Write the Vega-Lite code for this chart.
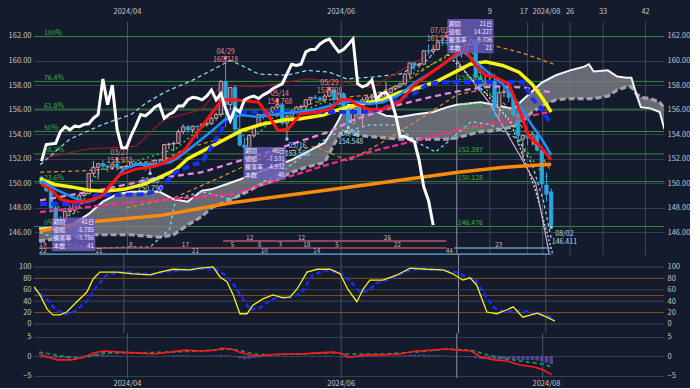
{
"$schema":"https://vega.github.io/schema/vega-lite/v6.json",
"background":"#141b2c",
"padding":{"left":8,"top":7,"right":0,"bottom":0},
"spacing":0,
"bounds":"flush",
"config":{"view":{"stroke":null},"font":"Noto Sans CJK JP","axis":{"labelColor":"#c4c4c4","labelFontSize":7.5,"labelFont":"Noto Sans CJK JP","domain":false,"ticks":false,"labelPadding":3,"gridColor":"#363e4f","title":null},"text":{"font":"Noto Sans CJK JP","fontSize":7.5}},
"datasets":{
"px":[
{"t":2,"o":150.5,"h":150.6,"l":149.8,"c":150.0,"hg":-0.4},
{"t":3,"o":150.0,"h":150.2,"l":149.3,"c":149.4,"hg":-0.45},
{"t":4,"o":149.4,"h":149.5,"l":147.6,"c":148.0,"hg":-0.5},
{"t":5,"o":148.0,"h":148.2,"l":146.48,"c":147.05,"hg":-0.55},
{"t":6,"o":147.05,"h":147.3,"l":146.48,"c":146.95,"hg":-0.5},
{"t":7,"o":146.95,"h":148.0,"l":146.8,"c":147.7,"hg":-0.4},
{"t":8,"o":147.7,"h":148.2,"l":147.3,"c":147.8,"hg":-0.3},
{"t":9,"o":147.8,"h":148.4,"l":147.5,"c":148.3,"hg":-0.1},
{"t":10,"o":148.3,"h":149.2,"l":148.0,"c":149.0,"hg":0.02},
{"t":11,"o":149.0,"h":149.3,"l":148.9,"c":149.15,"hg":0.15},
{"t":12,"o":149.15,"h":150.8,"l":149.1,"c":150.8,"hg":0.35},
{"t":13,"o":150.8,"h":151.8,"l":150.5,"c":151.3,"hg":0.45},
{"t":14,"o":151.3,"h":151.4,"l":150.3,"c":151.6,"hg":0.45},
{"t":15,"o":151.6,"h":151.9,"l":151.2,"c":151.4,"hg":0.4},
{"t":16,"o":151.4,"h":151.5,"l":150.9,"c":151.3,"hg":0.3},
{"t":17,"o":151.3,"h":151.6,"l":151.1,"c":151.55,"hg":0.2},
{"t":18,"o":151.55,"h":151.973,"l":151.0,"c":151.3,"hg":0.15},
{"t":19,"o":151.3,"h":151.4,"l":151.1,"c":151.35,"hg":0.1},
{"t":20,"o":151.35,"h":151.45,"l":151.2,"c":151.4,"hg":0.05},
{"t":21,"o":151.4,"h":151.75,"l":151.3,"c":151.65,"hg":0.02},
{"t":22,"o":151.65,"h":151.8,"l":151.5,"c":151.55,"hg":0.02},
{"t":23,"o":151.55,"h":151.8,"l":151.45,"c":151.65,"hg":-0.05},
{"t":24,"o":151.65,"h":151.7,"l":151.0,"c":151.3,"hg":-0.1},
{"t":25,"o":151.3,"h":151.75,"l":150.79,"c":151.6,"hg":-0.1},
{"t":26,"o":151.6,"h":151.95,"l":151.55,"c":151.85,"hg":-0.05},
{"t":27,"o":151.85,"h":151.95,"l":151.6,"c":151.8,"hg":0.02},
{"t":28,"o":151.8,"h":153.2,"l":151.6,"c":153.15,"hg":0.1},
{"t":29,"o":153.15,"h":153.3,"l":152.75,"c":153.2,"hg":0.15},
{"t":30,"o":153.2,"h":153.4,"l":152.6,"c":153.25,"hg":0.2},
{"t":31,"o":153.25,"h":154.4,"l":153.2,"c":154.2,"hg":0.25},
{"t":32,"o":154.2,"h":154.8,"l":154.0,"c":154.6,"hg":0.25},
{"t":33,"o":154.6,"h":154.75,"l":154.1,"c":154.35,"hg":0.2},
{"t":34,"o":154.35,"h":154.7,"l":154.1,"c":154.65,"hg":0.15},
{"t":35,"o":154.65,"h":154.7,"l":153.6,"c":154.6,"hg":0.1},
{"t":36,"o":154.6,"h":154.9,"l":154.5,"c":154.8,"hg":0.1},
{"t":37,"o":154.8,"h":154.9,"l":154.6,"c":154.85,"hg":0.1},
{"t":38,"o":154.85,"h":155.4,"l":154.75,"c":155.3,"hg":0.15},
{"t":39,"o":155.3,"h":155.75,"l":155.1,"c":155.6,"hg":0.2},
{"t":40,"o":155.6,"h":158.4,"l":155.4,"c":158.3,"hg":0.3},
{"t":41,"o":158.3,"h":160.218,"l":154.55,"c":156.4,"hg":0.2},
{"t":42,"o":156.4,"h":157.8,"l":155.9,"c":157.8,"hg":0.1},
{"t":43,"o":157.8,"h":158.0,"l":153.9,"c":154.4,"hg":-0.3},
{"t":44,"o":154.4,"h":156.0,"l":153.0,"c":153.1,"hg":-0.6},
{"t":45,"o":153.1,"h":153.7,"l":151.86,"c":152.9,"hg":-0.8},
{"t":46,"o":152.9,"h":154.0,"l":152.8,"c":153.9,"hg":-0.7},
{"t":47,"o":153.9,"h":154.7,"l":153.8,"c":154.7,"hg":-0.5},
{"t":48,"o":154.7,"h":155.6,"l":154.6,"c":155.6,"hg":-0.35},
{"t":49,"o":155.6,"h":155.95,"l":155.2,"c":155.5,"hg":-0.2},
{"t":50,"o":155.5,"h":155.8,"l":155.3,"c":155.8,"hg":-0.1},
{"t":51,"o":155.8,"h":156.2,"l":155.7,"c":156.2,"hg":0.02},
{"t":52,"o":156.2,"h":156.768,"l":156.1,"c":156.4,"hg":0.05},
{"t":53,"o":156.4,"h":156.5,"l":154.7,"c":154.9,"hg":-0.05},
{"t":54,"o":154.9,"h":155.6,"l":153.598,"c":155.4,"hg":-0.1},
{"t":55,"o":155.4,"h":155.9,"l":155.2,"c":155.7,"hg":-0.05},
{"t":56,"o":155.7,"h":156.3,"l":155.6,"c":156.2,"hg":0.02},
{"t":57,"o":156.2,"h":156.4,"l":155.9,"c":156.25,"hg":0.05},
{"t":58,"o":156.25,"h":156.8,"l":156.0,"c":156.8,"hg":0.05},
{"t":59,"o":156.8,"h":157.0,"l":156.5,"c":157.0,"hg":0.05},
{"t":60,"o":157.0,"h":157.2,"l":156.8,"c":156.95,"hg":0.05},
{"t":61,"o":156.95,"h":157.1,"l":156.6,"c":156.8,"hg":0.05},
{"t":62,"o":156.8,"h":157.3,"l":156.8,"c":157.1,"hg":0.1},
{"t":63,"o":157.1,"h":157.708,"l":157.0,"c":157.6,"hg":0.1},
{"t":64,"o":157.6,"h":157.7,"l":156.4,"c":156.8,"hg":0.02},
{"t":65,"o":156.8,"h":157.3,"l":156.5,"c":157.3,"hg":-0.1},
{"t":66,"o":157.3,"h":157.4,"l":156.0,"c":156.1,"hg":-0.3},
{"t":67,"o":156.1,"h":156.15,"l":154.548,"c":154.9,"hg":-0.5},
{"t":68,"o":154.9,"h":156.4,"l":154.9,"c":156.1,"hg":-0.5},
{"t":69,"o":156.1,"h":156.2,"l":155.4,"c":155.6,"hg":-0.4},
{"t":70,"o":155.6,"h":157.0,"l":154.6,"c":156.8,"hg":-0.3},
{"t":71,"o":156.8,"h":157.2,"l":156.7,"c":157.0,"hg":-0.2},
{"t":72,"o":157.0,"h":157.2,"l":156.8,"c":157.1,"hg":-0.15},
{"t":73,"o":157.1,"h":157.3,"l":155.7,"c":156.7,"hg":-0.1},
{"t":74,"o":156.7,"h":157.1,"l":156.6,"c":157.1,"hg":-0.05},
{"t":75,"o":157.1,"h":158.25,"l":156.9,"c":157.4,"hg":0.02},
{"t":76,"o":157.4,"h":157.8,"l":157.3,"c":157.7,"hg":0.05},
{"t":77,"o":157.7,"h":158.0,"l":157.6,"c":157.9,"hg":0.1},
{"t":78,"o":157.9,"h":158.2,"l":157.8,"c":158.1,"hg":0.15},
{"t":79,"o":158.1,"h":159.0,"l":158.0,"c":158.9,"hg":0.2},
{"t":80,"o":158.9,"h":159.8,"l":158.7,"c":159.8,"hg":0.3},
{"t":81,"o":159.8,"h":159.9,"l":159.2,"c":159.6,"hg":0.35},
{"t":82,"o":159.6,"h":159.8,"l":159.4,"c":159.7,"hg":0.35},
{"t":83,"o":159.7,"h":160.85,"l":159.7,"c":160.8,"hg":0.35},
{"t":84,"o":160.8,"h":161.3,"l":160.5,"c":160.75,"hg":0.3},
{"t":85,"o":160.75,"h":161.3,"l":160.5,"c":160.9,"hg":0.25},
{"t":86,"o":160.9,"h":161.7,"l":160.8,"c":161.5,"hg":0.2},
{"t":87,"o":161.5,"h":161.75,"l":161.2,"c":161.45,"hg":0.15},
{"t":88,"o":161.45,"h":161.95,"l":161.2,"c":161.4,"hg":0.1},
{"t":89,"o":161.4,"h":161.5,"l":161.0,"c":161.2,"hg":0.02},
{"t":90,"o":161.2,"h":161.3,"l":160.3,"c":160.75,"hg":-0.1},
{"t":91,"o":160.75,"h":161.0,"l":160.25,"c":160.8,"hg":-0.15},
{"t":92,"o":160.8,"h":161.3,"l":160.7,"c":161.3,"hg":-0.15},
{"t":93,"o":161.3,"h":161.8,"l":161.2,"c":161.7,"hg":-0.2},
{"t":94,"o":161.7,"h":161.75,"l":157.4,"c":158.6,"hg":-0.5},
{"t":95,"o":158.6,"h":159.45,"l":157.4,"c":157.9,"hg":-0.7},
{"t":96,"o":157.9,"h":158.8,"l":157.8,"c":158.1,"hg":-0.75},
{"t":97,"o":158.1,"h":158.9,"l":157.9,"c":158.3,"hg":-0.8},
{"t":98,"o":158.3,"h":158.9,"l":155.4,"c":156.2,"hg":-0.9},
{"t":99,"o":156.2,"h":157.9,"l":155.4,"c":157.4,"hg":-0.9},
{"t":100,"o":157.4,"h":157.9,"l":157.0,"c":157.5,"hg":-0.85},
{"t":101,"o":157.5,"h":157.8,"l":156.6,"c":157.0,"hg":-0.8},
{"t":102,"o":157.0,"h":157.2,"l":155.5,"c":155.6,"hg":-0.9},
{"t":103,"o":155.6,"h":155.9,"l":153.2,"c":153.9,"hg":-1.0},
{"t":104,"o":153.6,"h":154.0,"l":151.9,"c":153.9,"hg":-1.0},
{"t":105,"o":153.9,"h":154.3,"l":153.1,"c":153.7,"hg":-1.0},
{"t":106,"o":153.7,"h":154.2,"l":153.1,"c":154.0,"hg":-1.05},
{"t":107,"o":153.9,"h":154.3,"l":152.6,"c":152.7,"hg":-1.15},
{"t":108,"o":152.7,"h":153.0,"l":149.6,"c":149.95,"hg":-1.4},
{"t":109,"o":149.85,"h":150.9,"l":148.5,"c":149.1,"hg":-1.7},
{"t":110,"o":149.3,"h":149.6,"l":146.411,"c":146.576,"hg":-2.0}
],
"ln":[
{"s":"ch","t":2,"v":151.8},{"s":"ch","t":3,"v":153.15},{"s":"ch","t":4,"v":153.2},{"s":"ch","t":5,"v":153.25},{"s":"ch","t":6,"v":154.2},{"s":"ch","t":7,"v":154.6},{"s":"ch","t":8,"v":154.35},{"s":"ch","t":9,"v":154.65},{"s":"ch","t":10,"v":154.6},{"s":"ch","t":11,"v":154.8},{"s":"ch","t":12,"v":154.85},{"s":"ch","t":13,"v":155.3},{"s":"ch","t":14,"v":155.6},{"s":"ch","t":15,"v":158.5},{"s":"ch","t":16,"v":156.4},{"s":"ch","t":17,"v":158.0},{"s":"ch","t":18,"v":154.4},{"s":"ch","t":19,"v":152.9},{"s":"ch","t":20,"v":152.9},{"s":"ch","t":21,"v":153.9},{"s":"ch","t":22,"v":154.7},{"s":"ch","t":23,"v":155.6},{"s":"ch","t":24,"v":155.5},{"s":"ch","t":25,"v":155.8},{"s":"ch","t":26,"v":156.2},{"s":"ch","t":27,"v":156.4},{"s":"ch","t":28,"v":155.3},{"s":"ch","t":29,"v":155.6},{"s":"ch","t":30,"v":155.8},{"s":"ch","t":31,"v":156.3},{"s":"ch","t":32,"v":156.3},{"s":"ch","t":33,"v":156.8},{"s":"ch","t":34,"v":157.0},{"s":"ch","t":35,"v":156.95},{"s":"ch","t":36,"v":156.8},{"s":"ch","t":37,"v":157.1},{"s":"ch","t":38,"v":157.6},{"s":"ch","t":39,"v":156.8},{"s":"ch","t":40,"v":157.3},{"s":"ch","t":41,"v":156.1},{"s":"ch","t":42,"v":155.1},{"s":"ch","t":43,"v":156.1},{"s":"ch","t":44,"v":155.8},{"s":"ch","t":45,"v":156.8},{"s":"ch","t":46,"v":157.0},{"s":"ch","t":47,"v":157.1},{"s":"ch","t":48,"v":156.9},{"s":"ch","t":49,"v":157.2},{"s":"ch","t":50,"v":157.4},{"s":"ch","t":51,"v":157.7},{"s":"ch","t":52,"v":157.9},{"s":"ch","t":53,"v":158.1},{"s":"ch","t":54,"v":158.9},{"s":"ch","t":55,"v":159.7},{"s":"ch","t":56,"v":159.6},{"s":"ch","t":57,"v":159.7},{"s":"ch","t":58,"v":160.7},{"s":"ch","t":59,"v":160.9},{"s":"ch","t":60,"v":160.9},{"s":"ch","t":61,"v":161.35},{"s":"ch","t":62,"v":161.6},{"s":"ch","t":63,"v":161.75},{"s":"ch","t":64,"v":161.2},{"s":"ch","t":65,"v":160.7},{"s":"ch","t":66,"v":160.9},{"s":"ch","t":67,"v":161.3},{"s":"ch","t":68,"v":161.75},{"s":"ch","t":69,"v":158.1},{"s":"ch","t":70,"v":157.85},{"s":"ch","t":71,"v":158.0},{"s":"ch","t":72,"v":158.4},{"s":"ch","t":73,"v":156.8},{"s":"ch","t":74,"v":157.3},{"s":"ch","t":75,"v":157.4},{"s":"ch","t":76,"v":156.9},{"s":"ch","t":77,"v":155.6},{"s":"ch","t":78,"v":153.8},{"s":"ch","t":79,"v":153.8},{"s":"ch","t":80,"v":153.6},{"s":"ch","t":81,"v":153.4},{"s":"ch","t":82,"v":151.9},{"s":"ch","t":83,"v":149.7},{"s":"ch","t":84,"v":148.6},{"s":"ch","t":85,"v":146.6},
{"s":"r","t":2,"v":149.9},{"s":"r","t":4,"v":149.5},{"s":"r","t":6,"v":148.7},{"s":"r","t":8,"v":148.5},{"s":"r","t":11,"v":148.5},{"s":"r","t":14.6,"v":148.9},{"s":"r","t":16.6,"v":149.85},{"s":"r","t":18.6,"v":150.7},{"s":"r","t":22,"v":151.15},{"s":"r","t":25,"v":151.3},{"s":"r","t":27,"v":151.5},{"s":"r","t":30.4,"v":152.15},{"s":"r","t":32.5,"v":152.8},{"s":"r","t":34,"v":153.6},{"s":"r","t":36.7,"v":155.0},{"s":"r","t":40.2,"v":156.8},{"s":"r","t":43,"v":156.8},{"s":"r","t":48,"v":156.6},{"s":"r","t":50,"v":155.55},{"s":"r","t":52.1,"v":154.3},{"s":"r","t":54.2,"v":154.4},{"s":"r","t":56.9,"v":155.65},{"s":"r","t":60.5,"v":155.8},{"s":"r","t":63.2,"v":156.05},{"s":"r","t":65.3,"v":156.8},{"s":"r","t":67.4,"v":156.8},{"s":"r","t":68.8,"v":156.4},{"s":"r","t":71.5,"v":156.0},{"s":"r","t":74.4,"v":156.05},{"s":"r","t":77.8,"v":156.6},{"s":"r","t":81.3,"v":158.1},{"s":"r","t":84.7,"v":159.05},{"s":"r","t":87.5,"v":159.8},{"s":"r","t":89.3,"v":160.4},{"s":"r","t":91.6,"v":160.95},{"s":"r","t":94,"v":159.6},{"s":"r","t":96.1,"v":158.8},{"s":"r","t":98.2,"v":158.65},{"s":"r","t":101,"v":158.1},{"s":"r","t":103.2,"v":156.05},{"s":"r","t":105.3,"v":153.8},{"s":"r","t":107.4,"v":153.1},{"s":"r","t":108.7,"v":152.55},{"s":"r","t":110,"v":151.9},
{"s":"sb","t":2,"v":150.2},{"s":"sb","t":5,"v":149.5},{"s":"sb","t":8.3,"v":148.9},{"s":"sb","t":11,"v":148.5},{"s":"sb","t":13,"v":148.6},{"s":"sb","t":15.2,"v":149.1},{"s":"sb","t":17.3,"v":150.1},{"s":"sb","t":19.4,"v":151.15},{"s":"sb","t":22.1,"v":151.5},{"s":"sb","t":26.3,"v":151.5},{"s":"sb","t":29.2,"v":151.7},{"s":"sb","t":31,"v":152.1},{"s":"sb","t":34,"v":153.0},{"s":"sb","t":38.2,"v":154.3},{"s":"sb","t":40.9,"v":155.2},{"s":"sb","t":44.4,"v":155.55},{"s":"sb","t":48,"v":155.4},{"s":"sb","t":52.1,"v":155.65},{"s":"sb","t":56.3,"v":155.8},{"s":"sb","t":60.5,"v":156.05},{"s":"sb","t":64.6,"v":156.45},{"s":"sb","t":67.7,"v":156.7},{"s":"sb","t":71.5,"v":156.45},{"s":"sb","t":74.4,"v":156.6},{"s":"sb","t":77.8,"v":157.2},{"s":"sb","t":81.3,"v":158.25},{"s":"sb","t":84.7,"v":159.05},{"s":"sb","t":88.2,"v":160.0},{"s":"sb","t":91.4,"v":160.7},{"s":"sb","t":93.4,"v":160.1},{"s":"sb","t":96.1,"v":159.2},{"s":"sb","t":99.7,"v":158.1},{"s":"sb","t":103.2,"v":156.4},{"s":"sb","t":105.9,"v":154.75},{"s":"sb","t":108,"v":153.6},{"s":"sb","t":110,"v":152.3},
{"s":"y","t":1.7,"v":150.35},{"s":"y","t":4.8,"v":149.9},{"s":"y","t":8.3,"v":149.7},{"s":"y","t":11.7,"v":149.45},{"s":"y","t":15.2,"v":149.35},{"s":"y","t":19.4,"v":149.5},{"s":"y","t":23.6,"v":149.9},{"s":"y","t":26.3,"v":150.35},{"s":"y","t":30.4,"v":151.1},{"s":"y","t":33,"v":152.0},{"s":"y","t":38,"v":153.0},{"s":"y","t":41,"v":153.6},{"s":"y","t":44.4,"v":154.3},{"s":"y","t":48.6,"v":154.8},{"s":"y","t":53.4,"v":155.15},{"s":"y","t":56.9,"v":155.25},{"s":"y","t":61.7,"v":155.55},{"s":"y","t":64.6,"v":155.95},{"s":"y","t":69.4,"v":156.45},{"s":"y","t":74.2,"v":156.8},{"s":"y","t":77.8,"v":157.4},{"s":"y","t":81.3,"v":157.7},{"s":"y","t":85.5,"v":158.25},{"s":"y","t":90.3,"v":159.2},{"s":"y","t":92.8,"v":159.7},{"s":"y","t":96.1,"v":159.9},{"s":"y","t":99.7,"v":159.6},{"s":"y","t":103.2,"v":159.05},{"s":"y","t":105.9,"v":158.1},{"s":"y","t":108,"v":157.0},{"s":"y","t":110,"v":155.8},
{"s":"o","t":1.7,"v":146.1},{"s":"o","t":11,"v":146.8},{"s":"o","t":27.7,"v":147.4},{"s":"o","t":42.3,"v":148.4},{"s":"o","t":67.4,"v":149.7},{"s":"o","t":90.3,"v":150.9},{"s":"o","t":100,"v":151.3},{"s":"o","t":110,"v":151.55},
{"s":"k","t":1.7,"v":148.3},{"s":"k","t":9,"v":148.3},{"s":"k","t":12,"v":148.5},{"s":"k","t":13.5,"v":149.0},{"s":"k","t":24,"v":149.1},{"s":"k","t":27,"v":149.5},{"s":"k","t":30.4,"v":150.9},{"s":"k","t":34,"v":151.5},{"s":"k","t":36,"v":151.7},{"s":"k","t":38.2,"v":153.1},{"s":"k","t":40.2,"v":154.4},{"s":"k","t":42,"v":155.8},{"s":"k","t":66,"v":155.8},{"s":"k","t":70,"v":155.8},{"s":"k","t":74.4,"v":156.05},{"s":"k","t":77.8,"v":156.9},{"s":"k","t":81.3,"v":157.4},{"s":"k","t":84,"v":158.1},{"s":"k","t":86.8,"v":158.25},{"s":"k","t":104,"v":158.25},{"s":"k","t":106,"v":156.9},{"s":"k","t":108,"v":156.0},{"s":"k","t":110,"v":154.8},
{"s":"vi","t":1.7,"v":148.6},{"s":"vi","t":15,"v":149.5},{"s":"vi","t":25,"v":150.3},{"s":"vi","t":36,"v":150.9},{"s":"vi","t":48,"v":152.3},{"s":"vi","t":63,"v":154.2},{"s":"vi","t":67.7,"v":155.1},{"s":"vi","t":77.8,"v":156.4},{"s":"vi","t":84.7,"v":157.05},{"s":"vi","t":89.7,"v":157.45},{"s":"vi","t":95,"v":157.8},{"s":"vi","t":99,"v":157.9},{"s":"vi","t":104.3,"v":157.8},{"s":"vi","t":110,"v":157.4},
{"s":"hp","t":1.7,"v":147.65},{"s":"hp","t":20,"v":148.4},{"s":"hp","t":42.3,"v":149.1},{"s":"hp","t":60,"v":151.2},{"s":"hp","t":72,"v":152.6},{"s":"hp","t":90.9,"v":154.4},{"s":"hp","t":99.7,"v":155.0},{"s":"hp","t":109.5,"v":155.8},
{"s":"cu","t":1.7,"v":151.5},{"s":"cu","t":8,"v":153.6},{"s":"cu","t":15,"v":154.8},{"s":"cu","t":21,"v":155.6},{"s":"cu","t":24,"v":156.5},{"s":"cu","t":28,"v":157.4},{"s":"cu","t":34,"v":158.4},{"s":"cu","t":40,"v":159.6},{"s":"cu","t":42,"v":160.0},{"s":"cu","t":44.4,"v":159.6},{"s":"cu","t":48,"v":158.9},{"s":"cu","t":54,"v":158.8},{"s":"cu","t":58.4,"v":159.2},{"s":"cu","t":63,"v":159.05},{"s":"cu","t":66.7,"v":158.5},{"s":"cu","t":72,"v":158.65},{"s":"cu","t":78,"v":158.9},{"s":"cu","t":84,"v":160.1},{"s":"cu","t":87,"v":161.8},{"s":"cu","t":89.5,"v":163.3},{"s":"cu","t":92,"v":164.5},
{"s":"cl","t":1.7,"v":146.0},{"s":"cl","t":8,"v":145.0},{"s":"cl","t":14,"v":144.7},{"s":"cl","t":21,"v":144.8},{"s":"cl","t":25,"v":144.8},{"s":"cl","t":29.2,"v":146.3},{"s":"cl","t":30.4,"v":148.7},{"s":"cl","t":36,"v":149.3},{"s":"cl","t":42.3,"v":148.7},{"s":"cl","t":52.8,"v":150.9},{"s":"cl","t":63.2,"v":153.9},{"s":"cl","t":71.5,"v":154.75},{"s":"cl","t":77.2,"v":154.75},{"s":"cl","t":81.3,"v":153.4},{"s":"cl","t":85.5,"v":152.55},{"s":"cl","t":88.2,"v":153.4},{"s":"cl","t":93,"v":155.0},{"s":"cl","t":97,"v":154.8},{"s":"cl","t":100,"v":154.2},{"s":"cl","t":103,"v":153.6},{"s":"cl","t":106,"v":151.5},{"s":"cl","t":108.4,"v":148.5},{"s":"cl","t":110,"v":145.5},
{"s":"od","t":1.7,"v":150.9},{"s":"od","t":10,"v":151.0},{"s":"od","t":18,"v":151.2},{"s":"od","t":23.6,"v":151.7},{"s":"od","t":28.4,"v":152.0},{"s":"od","t":32.5,"v":152.8},{"s":"od","t":36,"v":153.2},{"s":"od","t":44,"v":154.0},{"s":"od","t":52,"v":155.5},{"s":"od","t":60,"v":156.6},{"s":"od","t":66,"v":157.0},{"s":"od","t":72,"v":157.2},{"s":"od","t":78,"v":158.0},{"s":"od","t":84,"v":159.5},{"s":"od","t":90,"v":160.95},{"s":"od","t":93.4,"v":161.5},{"s":"od","t":98,"v":161.2},{"s":"od","t":104,"v":160.6},{"s":"od","t":110.5,"v":159.7},
{"s":"odl","t":20,"v":148.0},{"s":"odl","t":30,"v":148.8},{"s":"odl","t":40,"v":150.5},{"s":"odl","t":50,"v":152.3},{"s":"odl","t":60,"v":153.0},{"s":"odl","t":67,"v":151.8},{"s":"odl","t":75,"v":153.5},{"s":"odl","t":82,"v":155.2},{"s":"odl","t":90,"v":157.2},{"s":"odl","t":95,"v":157.6},{"s":"odl","t":100,"v":156.5},{"s":"odl","t":105,"v":154.0},{"s":"odl","t":110,"v":151.0},
{"s":"g","t":1.7,"v":150.1},{"s":"g","t":4,"v":149.0},{"s":"g","t":7,"v":147.3},{"s":"g","t":10,"v":147.7},{"s":"g","t":12.5,"v":150.1},{"s":"g","t":16,"v":151.7},{"s":"g","t":22,"v":151.8},{"s":"g","t":30.4,"v":152.8},{"s":"g","t":35.5,"v":154.4},{"s":"g","t":40.2,"v":155.8},{"s":"g","t":42.3,"v":155.0},{"s":"g","t":45.9,"v":153.4},{"s":"g","t":50,"v":154.8},{"s":"g","t":55,"v":155.6},{"s":"g","t":62,"v":156.6},{"s":"g","t":67,"v":156.0},{"s":"g","t":71.5,"v":156.8},{"s":"g","t":77.5,"v":157.7},{"s":"g","t":81,"v":159.0},{"s":"g","t":87,"v":160.1},{"s":"g","t":92.4,"v":161.5},{"s":"g","t":96.1,"v":157.7},{"s":"g","t":99.7,"v":156.05},{"s":"g","t":101.8,"v":154.75},{"s":"g","t":104.5,"v":152.8},{"s":"g","t":107.4,"v":151.15},{"s":"g","t":109.5,"v":150.35},
{"s":"dr","t":1.7,"v":152.0},{"s":"dr","t":12,"v":152.8},{"s":"dr","t":22,"v":153.0},{"s":"dr","t":28,"v":155.2},{"s":"dr","t":36,"v":156.0},{"s":"dr","t":40,"v":158.0},{"s":"dr","t":48,"v":157.85},{"s":"dr","t":58,"v":158.5},{"s":"dr","t":66,"v":158.25},{"s":"dr","t":72,"v":157.8},{"s":"dr","t":84,"v":160.5},{"s":"dr","t":88,"v":162.3},{"s":"dr","t":92,"v":163.5},
{"s":"wd","t":88,"v":160.5},{"s":"wd","t":95,"v":157.8},{"s":"wd","t":101.4,"v":155.0},{"s":"wd","t":106.6,"v":149.5},{"s":"wd","t":110.5,"v":144.0},
{"s":"lv","t":90,"v":160.0},{"s":"lv","t":97,"v":156.5},{"s":"lv","t":103,"v":152.5},{"s":"lv","t":106.7,"v":150.0},{"s":"lv","t":109.6,"v":144.2}
],
"cloud":[
{"t":1.46,"a":146.3,"b":145.3},{"t":8,"a":146.5,"b":145.6},{"t":12,"a":147.5,"b":145.8},{"t":15,"a":148.5,"b":145.8},{"t":18,"a":149.1,"b":145.8},{"t":21,"a":149.3,"b":145.8},{"t":24,"a":149.3,"b":145.7},{"t":27,"a":149.3,"b":145.6},{"t":30,"a":148.7,"b":145.8},{"t":33,"a":148.5,"b":146.6},{"t":36,"a":149.4,"b":147.3},{"t":38,"a":149.5,"b":148.0},{"t":41,"a":149.9,"b":148.5},{"t":44,"a":150.3,"b":149.0},{"t":48,"a":150.9,"b":149.8},{"t":52,"a":151.5,"b":150.3},{"t":55,"a":151.9,"b":150.9},{"t":58,"a":152.5,"b":151.3},{"t":62,"a":153.3,"b":151.7},{"t":64,"a":154.5,"b":153.2},{"t":65,"a":155.2,"b":153.8},{"t":66,"a":156.0,"b":154.2},{"t":67,"a":156.4,"b":154.2},{"t":69,"a":156.3,"b":153.9},{"t":72,"a":156.0,"b":153.8},{"t":75,"a":155.5,"b":153.7},{"t":78,"a":155.4,"b":153.6},{"t":81,"a":155.6,"b":153.6},{"t":85,"a":155.8,"b":153.6},{"t":88,"a":156.2,"b":153.6},{"t":90,"a":156.4,"b":153.7},{"t":95,"a":156.6,"b":154.2},{"t":98,"a":156.4,"b":154.3},{"t":102,"a":156.05,"b":154.6},{"t":104,"a":156.8,"b":155.1},{"t":106,"a":157.5,"b":155.8},{"t":108,"a":158.2,"b":156.3},{"t":111,"a":158.8,"b":156.8},{"t":114,"a":159.2,"b":156.9},{"t":117,"a":159.5,"b":156.9},{"t":118,"a":159.7,"b":156.9},{"t":119,"a":159.1,"b":156.9},{"t":122,"a":159.2,"b":157.1},{"t":124,"a":158.7,"b":157.6},{"t":126,"a":158.6,"b":157.85},{"t":127,"a":158.6,"b":157.85},{"t":128,"a":157.3,"b":157.3},{"t":129,"a":156.2,"b":157.0},{"t":131,"a":156.1,"b":156.9},{"t":133,"a":155.8,"b":156.6},{"t":134,"a":154.4,"b":156.1}
],
"fib":[
{"p":161.95,"pct":"100%","lv":"161.950"},{"p":158.298,"pct":"76.4%","lv":"158.298"},{"p":156.039,"pct":"61.8%","lv":"156.039"},{"p":154.213,"pct":"50%","lv":"154.213"},{"p":152.387,"pct":"38.2%","lv":"152.387"},{"p":150.128,"pct":"23.6%","lv":"150.128"},{"p":146.476,"pct":"0%","lv":"146.476"}
],
"vg":[
{"t":20.2,"k":"m"},{"t":65.5,"k":"m"},{"t":108.2,"k":"m"},{"t":90,"k":"c"},{"t":97,"k":"y"},{"t":105,"k":"y"},{"t":114,"k":"y"},{"t":121,"k":"y"},{"t":130,"k":"y"}
],
"toplab":[
{"t":20.2,"lab":"2024/04","k":"m"},{"t":65.5,"lab":"2024/06","k":"m"},{"t":109.0,"lab":"2024/08","k":"m"},{"t":97,"lab":"9","k":"y"},{"t":104.2,"lab":"17","k":"y"},{"t":114,"lab":"26","k":"y"},{"t":121,"lab":"33","k":"y"},{"t":130,"lab":"42","k":"y"}
],
"hl":[
{"t":41,"tl":41,"p":160.218,"k":"h","lab":["04/29","160.218"]},
{"t":52,"tl":52.5,"p":156.768,"k":"h","lab":["05/14","156.768"]},
{"t":63,"tl":63,"p":157.708,"k":"h","lab":["05/29","157.708"]},
{"t":18,"tl":18.5,"p":151.973,"k":"h","lab":["03/27","151.973"]},
{"t":88,"tl":86.3,"p":161.95,"k":"h","lab":["07/03","161.950"]},
{"t":25,"tl":25,"p":150.79,"k":"l","lab":["04/05","150.790"]},
{"t":54,"tl":56.2,"p":153.598,"k":"l","lab":["05/16","153.598"]},
{"t":67,"tl":67.5,"p":154.548,"k":"l","lab":["06/04","154.548"]},
{"t":110,"tl":112.8,"p":146.411,"k":"l","lab":["08/02","146.411"]}
],
"box":[
{"t1":4.2,"t2":13.4,"p1":147.2,"p2":144.45},
{"t1":44.8,"t2":53.8,"p1":152.95,"p2":150.3},
{"t1":88.0,"t2":97.8,"p1":163.39,"p2":160.6}
],
"boxtxt":[
{"tk":4.5,"tv":13.1,"p":146.8,"k":"期間","v":"41日"},{"tk":4.5,"tv":13.1,"p":146.16,"k":"値幅","v":"-5.785"},{"tk":4.5,"tv":13.1,"p":145.52,"k":"騰落率","v":"-3.786"},{"tk":4.5,"tv":13.1,"p":144.88,"k":"本数","v":"41"},
{"tk":45.1,"tv":53.5,"p":152.62,"k":"期間","v":"46日"},{"tk":45.1,"tv":53.5,"p":151.98,"k":"値幅","v":"-7.531"},{"tk":45.1,"tv":53.5,"p":151.32,"k":"騰落率","v":"-4.932"},{"tk":45.1,"tv":53.5,"p":150.66,"k":"本数","v":"46"},
{"tk":88.3,"tv":97.5,"p":162.95,"k":"期間","v":"21日"},{"tk":88.3,"tv":97.5,"p":162.3,"k":"値幅","v":"14.227"},{"tk":88.3,"tv":97.5,"p":161.65,"k":"騰落率","v":"9.706"},{"tk":88.3,"tv":97.5,"p":161.0,"k":"本数","v":"21"}
],
"cy":[
{"r":"A","t1":40.5,"t2":87.8,"p":145.29},{"r":"B","t1":1.5,"t2":87.8,"p":144.72},{"r":"B2","t1":89.5,"t2":110,"p":144.72},{"r":"C","t1":1.5,"t2":110,"p":144.22}
],
"cyl":[
{"t":46.1,"p":145.29,"lab":"12"},{"t":57.1,"p":145.29,"lab":"12"},{"t":75.3,"p":145.29,"lab":"26"},
{"t":2.3,"p":144.72,"lab":"19"},{"t":20.9,"p":144.72,"lab":"8"},{"t":32.5,"p":144.72,"lab":"17"},{"t":42.5,"p":144.72,"lab":"5"},{"t":48.2,"p":144.72,"lab":"8"},{"t":52.6,"p":144.72,"lab":"3"},{"t":58.2,"p":144.72,"lab":"18"},{"t":64.6,"p":144.72,"lab":"5"},{"t":77.4,"p":144.72,"lab":"22"},{"t":98.9,"p":144.72,"lab":"23"},
{"t":2.3,"p":144.22,"lab":"22"},{"t":14.2,"p":144.22,"lab":"21"},{"t":34.6,"p":144.22,"lab":"21"},{"t":49.2,"p":144.22,"lab":"10"},{"t":60.3,"p":144.22,"lab":"14"},{"t":88.4,"p":144.22,"lab":"44"}
],
"st":[
{"s":"K","t":1.5,"v":65},{"s":"K","t":2.7,"v":51},{"s":"K","t":4.2,"v":26},{"s":"K","t":5.4,"v":16},{"s":"K","t":6.9,"v":16},{"s":"K","t":8.3,"v":21},{"s":"K","t":10.4,"v":39},{"s":"K","t":12.5,"v":56},{"s":"K","t":13.8,"v":79},{"s":"K","t":15.2,"v":91},{"s":"K","t":18.8,"v":91},{"s":"K","t":22.1,"v":88},{"s":"K","t":25.7,"v":86},{"s":"K","t":27.7,"v":91},{"s":"K","t":30.4,"v":96},{"s":"K","t":34.0,"v":95},{"s":"K","t":36.1,"v":98},{"s":"K","t":38.8,"v":100},{"s":"K","t":40.3,"v":82},{"s":"K","t":41.7,"v":74},{"s":"K","t":43.0,"v":51},{"s":"K","t":44.4,"v":18},{"s":"K","t":45.9,"v":18},{"s":"K","t":47.1,"v":33},{"s":"K","t":49.2,"v":44},{"s":"K","t":51.3,"v":51},{"s":"K","t":53.4,"v":46},{"s":"K","t":54.8,"v":47},{"s":"K","t":56.3,"v":61},{"s":"K","t":58.4,"v":91},{"s":"K","t":60.5,"v":96},{"s":"K","t":63.2,"v":96},{"s":"K","t":65.3,"v":88},{"s":"K","t":66.9,"v":61},{"s":"K","t":68.8,"v":39},{"s":"K","t":70.1,"v":61},{"s":"K","t":71.5,"v":77},{"s":"K","t":74.2,"v":77},{"s":"K","t":77.2,"v":86},{"s":"K","t":79.9,"v":98},{"s":"K","t":83.4,"v":96},{"s":"K","t":86.8,"v":95},{"s":"K","t":88.8,"v":88},{"s":"K","t":90.9,"v":77},{"s":"K","t":92.4,"v":81},{"s":"K","t":93.8,"v":68},{"s":"K","t":95.9,"v":21},{"s":"K","t":98.0,"v":18},{"s":"K","t":100.1,"v":25},{"s":"K","t":101.4,"v":30},{"s":"K","t":103.4,"v":12},{"s":"K","t":106.4,"v":19},{"s":"K","t":108.4,"v":12},{"s":"K","t":110.1,"v":5},
{"s":"D","t":1.5,"v":62},{"s":"D","t":4,"v":45},{"s":"D","t":6,"v":25},{"s":"D","t":8,"v":17},{"s":"D","t":10,"v":22},{"s":"D","t":12.5,"v":40},{"s":"D","t":14.5,"v":65},{"s":"D","t":16.5,"v":85},{"s":"D","t":19,"v":91},{"s":"D","t":22,"v":90},{"s":"D","t":26,"v":87},{"s":"D","t":29,"v":92},{"s":"D","t":33,"v":95},{"s":"D","t":37,"v":97},{"s":"D","t":39.5,"v":96},{"s":"D","t":41.5,"v":85},{"s":"D","t":43,"v":70},{"s":"D","t":45,"v":45},{"s":"D","t":46.5,"v":25},{"s":"D","t":48.5,"v":28},{"s":"D","t":51,"v":43},{"s":"D","t":53.5,"v":48},{"s":"D","t":55.5,"v":46},{"s":"D","t":57.5,"v":58},{"s":"D","t":59.5,"v":85},{"s":"D","t":62,"v":94},{"s":"D","t":65,"v":92},{"s":"D","t":67.5,"v":75},{"s":"D","t":69.5,"v":55},{"s":"D","t":71,"v":58},{"s":"D","t":73,"v":72},{"s":"D","t":76,"v":80},{"s":"D","t":79,"v":92},{"s":"D","t":82,"v":97},{"s":"D","t":86,"v":95},{"s":"D","t":89.5,"v":91},{"s":"D","t":91.5,"v":83},{"s":"D","t":93.5,"v":78},{"s":"D","t":95.5,"v":50},{"s":"D","t":97.5,"v":28},{"s":"D","t":99.5,"v":21},{"s":"D","t":102,"v":24},{"s":"D","t":104,"v":22},{"s":"D","t":106.5,"v":18},{"s":"D","t":108.5,"v":15},{"s":"D","t":110.1,"v":10}
],
"sh":[{"v":100,"k":"g"},{"v":60,"k":"g"},{"v":40,"k":"g"},{"v":0,"k":"g"},{"v":80,"k":"o"},{"v":50,"k":"o"},{"v":20,"k":"o"}],
"md":[
{"s":"M","t":1.5,"v":0.5},{"s":"M","t":3.4,"v":-0.3},{"s":"M","t":5.4,"v":-1.0},{"s":"M","t":8.3,"v":-1.0},{"s":"M","t":11,"v":-0.3},{"s":"M","t":13.1,"v":0.8},{"s":"M","t":15.2,"v":1.3},{"s":"M","t":18.8,"v":1.0},{"s":"M","t":22.1,"v":0.8},{"s":"M","t":25.7,"v":0.5},{"s":"M","t":29.2,"v":1.0},{"s":"M","t":32.5,"v":1.5},{"s":"M","t":36.1,"v":1.3},{"s":"M","t":38.8,"v":1.5},{"s":"M","t":40.2,"v":2.0},{"s":"M","t":42.3,"v":1.8},{"s":"M","t":43.8,"v":1.0},{"s":"M","t":45.9,"v":0.3},{"s":"M","t":48,"v":0.0},{"s":"M","t":50,"v":0.3},{"s":"M","t":53.4,"v":0.5},{"s":"M","t":56.9,"v":0.5},{"s":"M","t":60.5,"v":0.8},{"s":"M","t":63.8,"v":1.0},{"s":"M","t":65.9,"v":0.5},{"s":"M","t":67,"v":-0.3},{"s":"M","t":70.9,"v":0.3},{"s":"M","t":74.2,"v":0.3},{"s":"M","t":77.8,"v":0.5},{"s":"M","t":81.3,"v":1.3},{"s":"M","t":84.7,"v":1.5},{"s":"M","t":87.6,"v":1.8},{"s":"M","t":90.3,"v":1.5},{"s":"M","t":93,"v":1.3},{"s":"M","t":95.1,"v":-0.3},{"s":"M","t":98,"v":-1.0},{"s":"M","t":100.7,"v":-1.3},{"s":"M","t":103.4,"v":-2.3},{"s":"M","t":106.4,"v":-2.8},{"s":"M","t":108.4,"v":-3.6},{"s":"M","t":110.1,"v":-4.8},
{"s":"S","t":1.5,"v":1.0},{"s":"S","t":4.8,"v":0.3},{"s":"S","t":8.3,"v":-0.5},{"s":"S","t":11.7,"v":-0.3},{"s":"S","t":15.2,"v":0.8},{"s":"S","t":22.1,"v":0.8},{"s":"S","t":29.2,"v":1.0},{"s":"S","t":36.1,"v":1.3},{"s":"S","t":40.9,"v":1.8},{"s":"S","t":43.8,"v":1.5},{"s":"S","t":47.1,"v":0.5},{"s":"S","t":50,"v":0.3},{"s":"S","t":56.9,"v":0.5},{"s":"S","t":63.8,"v":0.8},{"s":"S","t":66.9,"v":0.5},{"s":"S","t":74.2,"v":0.5},{"s":"S","t":81.3,"v":1.0},{"s":"S","t":88.2,"v":1.8},{"s":"S","t":93,"v":1.5},{"s":"S","t":96.5,"v":0.3},{"s":"S","t":100.7,"v":-0.8},{"s":"S","t":104.9,"v":-1.5},{"s":"S","t":108.4,"v":-2.1},{"s":"S","t":110.1,"v":-2.8}
]
},
"vconcat":[
{
"width":630,"height":233,
"resolve":{"axis":{"y":"independent"},"scale":{"color":"independent","strokeDash":"independent","strokeWidth":"independent"}},
"layer":[
{"data":{"name":"vg"},"mark":{"type":"rule","strokeWidth":1},"encoding":{"x":{"field":"t","type":"quantitative","scale":{"domain":[1.46,132.85],"nice":false,"zero":false},"axis":null},"color":{"field":"k","type":"nominal","scale":{"domain":["m","c","y"],"range":["#4a5163","#8e94a0","#3f4658"]},"legend":null}}},
{"data":{"name":"fib"},"mark":{"type":"rule","color":"#2f8f35","strokeWidth":1},"encoding":{"y":{"field":"p","type":"quantitative","scale":{"domain":[144.15,163.14],"nice":false,"zero":false},"axis":{"orient":"left","values":[146,148,150,152,154,156,158,160,162],"format":".2f","grid":true}}}},
{"data":{"name":"cloud"},"mark":{"type":"area","color":"#7c7e88","opacity":0.8,"clip":true},"encoding":{"x":{"field":"t","type":"quantitative","axis":null},"y":{"field":"a","type":"quantitative","axis":null},"y2":{"field":"b"}}},
{"data":{"name":"cloud"},"mark":{"type":"line","color":"#a2a2aa","strokeWidth":3.2,"strokeDash":[6,3],"clip":true},"encoding":{"x":{"field":"t","type":"quantitative","axis":null},"y":{"field":"b","type":"quantitative","axis":null}}},
{"data":{"name":"cloud"},"mark":{"type":"line","color":"#f4f4f4","strokeWidth":2,"clip":true},"encoding":{"x":{"field":"t","type":"quantitative","axis":null},"y":{"field":"a","type":"quantitative","axis":null}}},
{"data":{"name":"ln"},"transform":[{"filter":{"field":"s","oneOf":["cu","cl","od","odl","g","dr","wd","lv"]}}],"mark":{"type":"line","clip":true},"encoding":{"x":{"field":"t","type":"quantitative","axis":null},"y":{"field":"v","type":"quantitative","axis":null},"color":{"field":"s","type":"nominal","scale":{"domain":["cu","cl","od","odl","g","dr","wd","lv"],"range":["#8ad6e6","#8ad6e6","#e08a20","#d88a28","#3ddc3d","#8e1c22","#eeeeee","#c8a8d8"]},"legend":null},"strokeDash":{"field":"s","type":"nominal","scale":{"domain":["cu","cl","od","odl","g","dr","wd","lv"],"range":[[4,3],[3,3],[4,3],[4,3],[2,3],[1,0],[2,2],[1,0]]},"legend":null},"strokeWidth":{"field":"s","type":"nominal","scale":{"domain":["cu","cl","od","odl","g","dr","wd","lv"],"range":[1.3,1.2,1.3,1.1,1.7,1,1,0.8]},"legend":null}}},
{"mark":{"type":"rule","color":"#d0d0d0","strokeWidth":1},"encoding":{"y":{"datum":146.576,"type":"quantitative","axis":null}}},
{"data":{"name":"cy"},"mark":{"type":"rule","strokeWidth":1.6,"clip":true},"encoding":{"x":{"field":"t1","type":"quantitative","axis":null},"x2":{"field":"t2"},"y":{"field":"p","type":"quantitative","axis":null},"color":{"field":"r","type":"nominal","scale":{"domain":["A","B","B2","C"],"range":["#b4596b","#a8505f","#6a97b8","#4f85a8"]},"legend":null}}},
{"data":{"name":"cyl"},"mark":{"type":"text","color":"#cdb4bc","fontSize":6.5,"baseline":"bottom","dy":0},"encoding":{"x":{"field":"t","type":"quantitative","axis":null},"y":{"field":"p","type":"quantitative","axis":null},"text":{"field":"lab"}}},
{"data":{"name":"px"},"mark":{"type":"rule","strokeWidth":1},"encoding":{"x":{"field":"t","type":"quantitative","axis":null},"y":{"field":"l","type":"quantitative","axis":null},"y2":{"field":"h"},"color":{"condition":{"test":"datum.c >= datum.o","value":"#d8a2ae"},"value":"#2aa5de"}}},
{"data":{"name":"px"},"mark":{"type":"bar","size":3.4,"strokeWidth":0.8},"encoding":{"x":{"field":"t","type":"quantitative","axis":null},"y":{"field":"o","type":"quantitative","axis":{"orient":"right","values":[146,148,150,152,154,156,158,160,162],"format":".2f","grid":false}},"y2":{"field":"c"},"fill":{"condition":{"test":"datum.c >= datum.o","value":"#4a3444"},"value":"#2aa5de"},"stroke":{"condition":{"test":"datum.c >= datum.o","value":"#eab4c0"},"value":"#2aa5de"}}},
{"data":{"name":"ln"},"transform":[{"filter":"datum.s==='hp'"}],"mark":{"type":"line","color":"#ff2a8c","strokeWidth":2.3,"strokeDash":[6,3],"clip":true},"encoding":{"x":{"field":"t","type":"quantitative","axis":null},"y":{"field":"v","type":"quantitative","axis":null}}},
{"data":{"name":"ln"},"transform":[{"filter":"datum.s==='vi'"}],"mark":{"type":"line","color":"#e48ae6","strokeWidth":2.3,"strokeDash":[6,4],"clip":true},"encoding":{"x":{"field":"t","type":"quantitative","axis":null},"y":{"field":"v","type":"quantitative","axis":null}}},
{"data":{"name":"ln"},"transform":[{"filter":"datum.s==='o'"}],"mark":{"type":"line","color":"#ff8a0a","strokeWidth":3.5,"clip":true},"encoding":{"x":{"field":"t","type":"quantitative","axis":null},"y":{"field":"v","type":"quantitative","axis":null}}},
{"data":{"name":"ln"},"transform":[{"filter":"datum.s==='y'"}],"mark":{"type":"line","color":"#f8f410","strokeWidth":3.5,"clip":true},"encoding":{"x":{"field":"t","type":"quantitative","axis":null},"y":{"field":"v","type":"quantitative","axis":null}}},
{"data":{"name":"ln"},"transform":[{"filter":"datum.s==='k'"}],"mark":{"type":"line","color":"#1530ff","strokeWidth":4,"strokeDash":[7,4],"clip":true},"encoding":{"x":{"field":"t","type":"quantitative","axis":null},"y":{"field":"v","type":"quantitative","axis":null}}},
{"data":{"name":"ln"},"transform":[{"filter":"datum.s==='sb'"}],"mark":{"type":"line","color":"#1e8fff","strokeWidth":2.5,"clip":true},"encoding":{"x":{"field":"t","type":"quantitative","axis":null},"y":{"field":"v","type":"quantitative","axis":null}}},
{"data":{"name":"ln"},"transform":[{"filter":"datum.s==='r'"}],"mark":{"type":"line","color":"#ff1414","strokeWidth":3,"clip":true},"encoding":{"x":{"field":"t","type":"quantitative","axis":null},"y":{"field":"v","type":"quantitative","axis":null}}},
{"data":{"name":"ln"},"transform":[{"filter":"datum.s==='ch'"}],"mark":{"type":"line","color":"#ffffff","strokeWidth":3,"clip":true},"encoding":{"x":{"field":"t","type":"quantitative","axis":null},"y":{"field":"v","type":"quantitative","axis":null}}},
{"data":{"name":"fib"},"mark":{"type":"text","color":"#3cb043","align":"left","baseline":"bottom","dy":-0.5,"fontSize":7},"encoding":{"x":{"datum":2.5,"type":"quantitative","axis":null},"y":{"field":"p","type":"quantitative","axis":null},"text":{"field":"pct"}}},
{"data":{"name":"fib"},"transform":[{"filter":"datum.p < 161"}],"mark":{"type":"text","color":"#3cb043","align":"left","baseline":"bottom","dy":-0.5,"fontSize":7},"encoding":{"x":{"datum":90.2,"type":"quantitative","axis":null},"y":{"field":"p","type":"quantitative","axis":null},"text":{"field":"lv"}}},
{"data":{"name":"hl"},"mark":{"type":"point","shape":"square","filled":true,"size":9,"opacity":1},"encoding":{"x":{"field":"t","type":"quantitative","axis":null},"y":{"field":"p","type":"quantitative","axis":null},"color":{"field":"k","type":"nominal","scale":{"domain":["h","l"],"range":["#f08a8a","#8fd0ee"]},"legend":null}}},
{"data":{"name":"hl"},"transform":[{"filter":"datum.k==='h'"}],"mark":{"type":"text","color":"#f08a8a","baseline":"bottom","dy":-3,"lineHeight":8,"fontSize":7},"encoding":{"x":{"field":"tl","type":"quantitative","axis":null},"y":{"field":"p","type":"quantitative","axis":null},"text":{"field":"lab"}}},
{"data":{"name":"hl"},"transform":[{"filter":"datum.k==='l'"}],"mark":{"type":"text","color":"#a8daf2","baseline":"top","dy":3,"lineHeight":8,"fontSize":7},"encoding":{"x":{"field":"tl","type":"quantitative","axis":null},"y":{"field":"p","type":"quantitative","axis":null},"text":{"field":"lab"}}},
{"data":{"name":"box"},"mark":{"type":"rect","color":"#6e5fc0","opacity":0.8},"encoding":{"x":{"field":"t1","type":"quantitative","axis":null},"x2":{"field":"t2"},"y":{"field":"p1","type":"quantitative","axis":null},"y2":{"field":"p2"}}},
{"data":{"name":"boxtxt"},"mark":{"type":"text","color":"#ece8ff","align":"left","baseline":"middle","fontSize":6},"encoding":{"x":{"field":"tk","type":"quantitative","axis":null},"y":{"field":"p","type":"quantitative","axis":null},"text":{"field":"k"}}},
{"data":{"name":"boxtxt"},"mark":{"type":"text","color":"#ece8ff","align":"right","baseline":"middle","fontSize":6},"encoding":{"x":{"field":"tv","type":"quantitative","axis":null},"y":{"field":"p","type":"quantitative","axis":null},"text":{"field":"v"}}},
{"data":{"name":"toplab"},"mark":{"type":"text","color":"#c4c4c4","baseline":"middle"},"encoding":{"x":{"field":"t","type":"quantitative","axis":null},"y":{"datum":163.96,"type":"quantitative","axis":null},"text":{"field":"lab"}}},
{"mark":{"type":"rect","color":"#e4e4e4"},"encoding":{"x":{"datum":82,"type":"quantitative","axis":null},"x2":{"datum":90},"y":{"datum":164.44,"type":"quantitative","axis":null},"y2":{"datum":163.55}}},
{"mark":{"type":"text","color":"#333333","baseline":"middle","fontSize":8},"encoding":{"x":{"datum":86,"type":"quantitative","axis":null},"y":{"datum":163.99,"type":"quantitative","axis":null},"text":{"value":"2024/07/05"}}},
{"mark":{"type":"text","color":"#d8d8d8","baseline":"middle","align":"right","fontSize":6},"encoding":{"x":{"datum":84.0,"type":"quantitative","axis":null},"y":{"datum":163.3,"type":"quantitative","axis":null},"text":{"value":"高値 07/03"}}},
{"mark":{"type":"rect","color":"#eeeeee"},"encoding":{"x":{"datum":133.3,"type":"quantitative","axis":null},"x2":{"datum":140.3},"y":{"datum":146.95,"type":"quantitative","axis":null},"y2":{"datum":146.12}}},
{"mark":{"type":"text","color":"#333333","baseline":"middle","fontSize":8},"encoding":{"x":{"datum":136.8,"type":"quantitative","axis":null},"y":{"datum":146.53,"type":"quantitative","axis":null},"text":{"value":"146.576"}}}
]
},
{
"width":630,"height":78,
"resolve":{"axis":{"y":"independent"},"scale":{"color":"independent"}},
"layer":[
{"data":{"name":"vg"},"transform":[{"filter":"datum.k!=='y'"}],"mark":{"type":"rule","strokeWidth":1},"encoding":{"x":{"field":"t","type":"quantitative","scale":{"domain":[1.46,132.85],"nice":false,"zero":false},"axis":null},"color":{"field":"k","type":"nominal","scale":{"domain":["m","c"],"range":["#4a5163","#8e94a0"]},"legend":null}}},
{"data":{"name":"sh"},"mark":{"type":"rule","strokeWidth":1},"encoding":{"y":{"field":"v","type":"quantitative","scale":{"domain":[-15.8,121],"nice":false,"zero":false},"axis":{"orient":"left","values":[0,20,40,60,80,100],"grid":false}},"color":{"field":"k","type":"nominal","scale":{"domain":["g","o"],"range":["#3e4657","#8a4c12"]},"legend":null}}},
{"mark":{"type":"rule","color":"#6a7182","strokeWidth":1.5},"encoding":{"y":{"datum":120.5,"type":"quantitative","axis":null}}},
{"data":{"name":"st"},"transform":[{"filter":"datum.s==='D'"}],"mark":{"type":"line","color":"#1a2cff","strokeWidth":2.4,"strokeDash":[5,3],"clip":true},"encoding":{"x":{"field":"t","type":"quantitative","axis":null},"y":{"field":"v","type":"quantitative","axis":{"orient":"right","values":[0,20,40,60,80,100],"grid":false}}}},
{"data":{"name":"st"},"transform":[{"filter":"datum.s==='K'"}],"mark":{"type":"line","color":"#f4f01a","strokeWidth":1.3,"clip":true},"encoding":{"x":{"field":"t","type":"quantitative","axis":null},"y":{"field":"v","type":"quantitative","axis":null}}},
{"mark":{"type":"text","color":"#d0d0d0","align":"left","baseline":"middle","fontSize":7},"encoding":{"x":{"datum":2.3,"type":"quantitative","axis":null},"y":{"datum":106,"type":"quantitative","axis":null},"text":{"value":"スローストキャスティクス"}}}
]
},
{
"width":630,"height":45,
"resolve":{"axis":{"y":"independent"}},
"layer":[
{"data":{"name":"vg"},"transform":[{"filter":"datum.k!=='y'"}],"mark":{"type":"rule","strokeWidth":1},"encoding":{"x":{"field":"t","type":"quantitative","scale":{"domain":[1.46,132.85],"nice":false,"zero":false},"axis":null},"color":{"field":"k","type":"nominal","scale":{"domain":["m","c"],"range":["#4a5163","#8e94a0"]},"legend":null}}},
{"mark":{"type":"rule","color":"#6a7182","strokeWidth":1.5},"encoding":{"y":{"datum":5.75,"type":"quantitative","scale":{"domain":[-5.64,5.9],"nice":false,"zero":false},"axis":{"orient":"left","values":[-5,0,5],"grid":true}}}},
{"data":{"name":"px"},"mark":{"type":"bar","size":3.6,"color":"#5a4aa8","opacity":0.85},"encoding":{"x":{"field":"t","type":"quantitative","axis":null},"y":{"field":"hg","type":"quantitative","axis":null},"y2":{"datum":0}}},
{"data":{"name":"md"},"transform":[{"filter":"datum.s==='S'"}],"mark":{"type":"line","color":"#1a9a5a","strokeWidth":1.6,"strokeDash":[4,3],"clip":true},"encoding":{"x":{"field":"t","type":"quantitative","axis":null},"y":{"field":"v","type":"quantitative","axis":{"orient":"right","values":[-5,0,5],"grid":false}}}},
{"data":{"name":"md"},"transform":[{"filter":"datum.s==='M'"}],"mark":{"type":"line","color":"#ff1a1a","strokeWidth":1.6,"clip":true},"encoding":{"x":{"field":"t","type":"quantitative","axis":null},"y":{"field":"v","type":"quantitative","axis":null}}},
{"mark":{"type":"text","color":"#d0d0d0","align":"left","baseline":"middle","fontSize":7},"encoding":{"x":{"datum":2.5,"type":"quantitative","axis":null},"y":{"datum":3.9,"type":"quantitative","axis":null},"text":{"value":"MACD"}}},
{"data":{"name":"toplab"},"transform":[{"filter":"datum.k==='m'"}],"mark":{"type":"text","color":"#c4c4c4","baseline":"middle"},"encoding":{"x":{"field":"t","type":"quantitative","axis":null},"y":{"datum":-7.2,"type":"quantitative","axis":null},"text":{"field":"lab"}}},
{"mark":{"type":"rect","color":"#e4e4e4"},"encoding":{"x":{"datum":82,"type":"quantitative","axis":null},"x2":{"datum":90},"y":{"datum":-5.72,"type":"quantitative","axis":null},"y2":{"datum":-8.7}}},
{"mark":{"type":"text","color":"#333333","baseline":"middle","fontSize":8},"encoding":{"x":{"datum":86,"type":"quantitative","axis":null},"y":{"datum":-7.2,"type":"quantitative","axis":null},"text":{"value":"2024/07/05"}}}
]
}
]
}
